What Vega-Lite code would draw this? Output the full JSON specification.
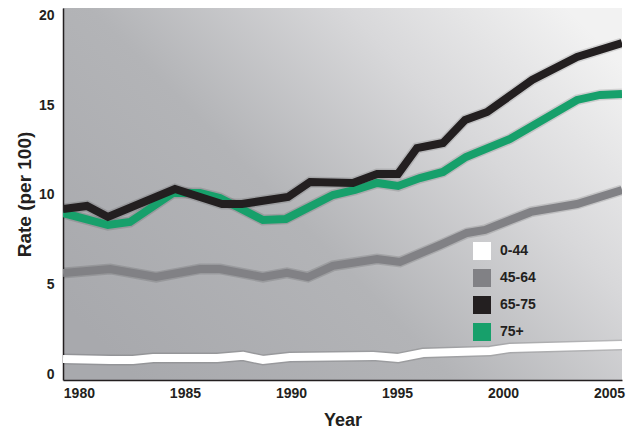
{
  "$schema": "https://vega.github.io/schema/vega-lite/v6.json",
  "autosize": {"type": "none"},
  "width": 559,
  "height": 372,
  "padding": {"left": 63, "top": 8, "right": 6, "bottom": 51},
  "background": "#ffffff",
  "config": {
    "font": "Liberation Sans",
    "view": {
      "stroke": null,
      "fill": {
        "gradient": "linear", "x1": 0, "y1": 0.8, "x2": 1, "y2": 0.15,
        "stops": [
          {"offset": 0, "color": "#a8a9ad"},
          {"offset": 0.4, "color": "#b3b4b7"},
          {"offset": 0.72, "color": "#d8d8da"},
          {"offset": 1, "color": "#f2f2f2"}
        ]
      }
    },
    "axis": {
      "labelFont": "Liberation Sans", "labelFontWeight": "bold", "labelFontSize": 14, "labelColor": "#231f20",
      "titleFont": "Liberation Sans", "titleFontWeight": "bold", "titleColor": "#231f20",
      "domainColor": "#231f20", "domainWidth": 1.5, "ticks": false, "grid": false
    }
  },
  "data": {
    "values": [
      {"year": 1979.25, "rate": 0.89, "group": "0-44"},
      {"year": 1981.47, "rate": 0.83, "group": "0-44"},
      {"year": 1982.55, "rate": 0.83, "group": "0-44"},
      {"year": 1983.5, "rate": 0.94, "group": "0-44"},
      {"year": 1986.52, "rate": 0.94, "group": "0-44"},
      {"year": 1987.74, "rate": 1.06, "group": "0-44"},
      {"year": 1988.68, "rate": 0.83, "group": "0-44"},
      {"year": 1989.95, "rate": 1.0, "group": "0-44"},
      {"year": 1993.87, "rate": 1.06, "group": "0-44"},
      {"year": 1995.05, "rate": 0.94, "group": "0-44"},
      {"year": 1996.23, "rate": 1.22, "group": "0-44"},
      {"year": 1999.39, "rate": 1.33, "group": "0-44"},
      {"year": 2000.33, "rate": 1.5, "group": "0-44"},
      {"year": 2005.61, "rate": 1.67, "group": "0-44"},

      {"year": 1979.25, "rate": 5.67, "group": "45-64"},
      {"year": 1981.47, "rate": 5.89, "group": "45-64"},
      {"year": 1983.64, "rate": 5.44, "group": "45-64"},
      {"year": 1985.71, "rate": 5.89, "group": "45-64"},
      {"year": 1986.65, "rate": 5.89, "group": "45-64"},
      {"year": 1988.68, "rate": 5.44, "group": "45-64"},
      {"year": 1989.81, "rate": 5.67, "group": "45-64"},
      {"year": 1990.8, "rate": 5.44, "group": "45-64"},
      {"year": 1991.98, "rate": 6.06, "group": "45-64"},
      {"year": 1994.06, "rate": 6.44, "group": "45-64"},
      {"year": 1995.14, "rate": 6.28, "group": "45-64"},
      {"year": 1997.03, "rate": 7.22, "group": "45-64"},
      {"year": 1998.3, "rate": 7.89, "group": "45-64"},
      {"year": 1999.15, "rate": 8.06, "group": "45-64"},
      {"year": 2001.32, "rate": 9.06, "group": "45-64"},
      {"year": 2003.49, "rate": 9.5, "group": "45-64"},
      {"year": 2005.61, "rate": 10.28, "group": "45-64"},

      {"year": 1979.25, "rate": 9.0, "group": "75+"},
      {"year": 1981.37, "rate": 8.33, "group": "75+"},
      {"year": 1982.41, "rate": 8.5, "group": "75+"},
      {"year": 1984.44, "rate": 10.11, "group": "75+"},
      {"year": 1985.71, "rate": 10.11, "group": "75+"},
      {"year": 1986.65, "rate": 9.83, "group": "75+"},
      {"year": 1988.68, "rate": 8.61, "group": "75+"},
      {"year": 1989.76, "rate": 8.67, "group": "75+"},
      {"year": 1991.98, "rate": 10.0, "group": "75+"},
      {"year": 1993.02, "rate": 10.28, "group": "75+"},
      {"year": 1994.06, "rate": 10.67, "group": "75+"},
      {"year": 1995.05, "rate": 10.5, "group": "75+"},
      {"year": 1996.08, "rate": 10.94, "group": "75+"},
      {"year": 1997.17, "rate": 11.28, "group": "75+"},
      {"year": 1998.25, "rate": 12.11, "group": "75+"},
      {"year": 2000.33, "rate": 13.11, "group": "75+"},
      {"year": 2003.49, "rate": 15.28, "group": "75+"},
      {"year": 2004.58, "rate": 15.56, "group": "75+"},
      {"year": 2005.61, "rate": 15.61, "group": "75+"},

      {"year": 1979.25, "rate": 9.22, "group": "65-75"},
      {"year": 1980.38, "rate": 9.39, "group": "65-75"},
      {"year": 1981.37, "rate": 8.78, "group": "65-75"},
      {"year": 1984.53, "rate": 10.33, "group": "65-75"},
      {"year": 1986.75, "rate": 9.5, "group": "65-75"},
      {"year": 1987.69, "rate": 9.5, "group": "65-75"},
      {"year": 1989.86, "rate": 9.89, "group": "65-75"},
      {"year": 1990.9, "rate": 10.72, "group": "65-75"},
      {"year": 1992.92, "rate": 10.67, "group": "65-75"},
      {"year": 1994.06, "rate": 11.17, "group": "65-75"},
      {"year": 1995.05, "rate": 11.17, "group": "65-75"},
      {"year": 1995.94, "rate": 12.61, "group": "65-75"},
      {"year": 1997.17, "rate": 12.89, "group": "65-75"},
      {"year": 1998.21, "rate": 14.17, "group": "65-75"},
      {"year": 1999.25, "rate": 14.61, "group": "65-75"},
      {"year": 2001.37, "rate": 16.39, "group": "65-75"},
      {"year": 2003.49, "rate": 17.67, "group": "65-75"},
      {"year": 2005.61, "rate": 18.44, "group": "65-75"}
    ]
  },
  "encoding": {
    "x": {
      "field": "year", "type": "quantitative", "title": "Year",
      "scale": {"domain": [1979.25, 2005.61], "nice": false, "zero": false},
      "axis": {"values": [1980, 1985, 1990, 1995, 2000, 2005], "format": "d", "labelPadding": 6, "titlePadding": 11, "titleFontSize": 18, "labelFlush": false, "labelBound": false}
    },
    "y": {
      "field": "rate", "type": "quantitative", "title": "Rate (per 100)",
      "scale": {"domain": [-0.28, 20.39], "nice": false, "zero": false},
      "axis": {"values": [0, 5, 10, 15, 20], "labelPadding": 9, "titlePadding": 4, "titleFontSize": 19}
    }
  },
  "layer": [
    {
      "mark": {"type": "line", "stroke": "#000000", "strokeOpacity": 0.12, "strokeWidth": 11, "clip": true},
      "encoding": {"detail": {"field": "group"}}
    },
    {
      "mark": {"type": "line", "strokeWidth": 8, "clip": true},
      "encoding": {
        "color": {
          "field": "group", "type": "nominal", "sort": null,
          "scale": {"domain": ["0-44", "45-64", "65-75", "75+"], "range": ["#ffffff", "#818185", "#231f20", "#17a06b"]},
          "legend": {
            "title": null, "orient": "none", "legendX": 410, "legendY": 234,
            "symbolType": "square", "symbolSize": 324, "symbolStrokeWidth": 0,
            "labelFont": "Liberation Sans", "labelFontWeight": "bold", "labelFontSize": 14, "labelColor": "#231f20",
            "rowPadding": 9, "labelOffset": 9, "padding": 0,
            "encode": {"symbols": {"update": {"fill": {"scale": "color", "field": "value"}, "fillOpacity": {"value": 1}, "strokeWidth": {"value": 0}}}}
          }
        },
        "order": {"field": "year"}
      }
    }
  ]
}
